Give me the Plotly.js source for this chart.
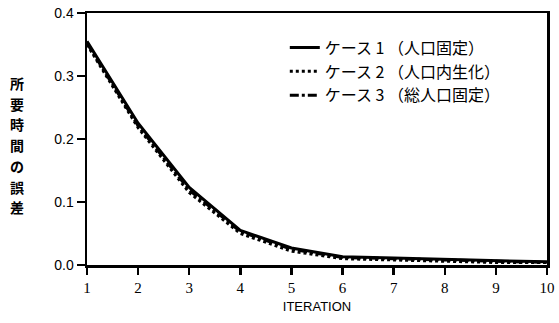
<!DOCTYPE html>
<html><head><meta charset="utf-8">
<script src="https://cdn.plot.ly/plotly-3.0.1.min.js"></script>
<style>body{margin:0;background:#fff}#c{width:559px;height:323px}</style>
</head><body><div id="c"></div>
<script>
const iterations = [1,2,3,4,5,6,7,8,9,10];
const case1 = [0.355,0.225,0.123,0.055,0.027,0.013,0.011,0.009,0.006,0.005];
const case2 = [0.350,0.218,0.115,0.050,0.022,0.010,0.008,0.006,0.004,0.004];
const case3 = [0.352,0.221,0.119,0.053,0.025,0.012,0.010,0.008,0.005,0.004];
const names = ['ケース 1 （人口固定）','ケース 2 （人口内生化）','ケース 3 （総人口固定）'];
const yTitleChars = ['所','要','時','間','の','誤','差'];
const jp = '"Noto Sans CJK JP", sans-serif';

const traces = [
  {x: iterations, y: case1, name: names[0], mode:'lines', line:{color:'#000', width:3, dash:'solid'}},
  {x: iterations, y: case2, name: names[1], mode:'lines', line:{color:'#000', width:3, dash:'dot'}},
  {x: iterations, y: case3, name: names[2], mode:'lines', line:{color:'#000', width:3, dash:'dashdot'}}
];

const plotTop = 13, plotBottom = 265, plotH = plotBottom - plotTop;
const annotations = yTitleChars.map((ch, i) => ({
  xref:'paper', yref:'paper', x:-0.152, y:(plotBottom - (83 + i*20.7))/plotH,
  xanchor:'center', yanchor:'middle', showarrow:false, text: ch,
  font:{family:jp, size:14, color:'#000', weight:'bold'}
}));

const layout = {
  width:559, height:323,
  margin:{l:87, r:12, t:13, b:58},
  paper_bgcolor:'#fff', plot_bgcolor:'#fff',
  showlegend:true,
  legend:{x:0.43, y:0.93, xanchor:'left', yanchor:'top', bgcolor:'rgba(0,0,0,0)',
          font:{family:jp, size:16, color:'#000'}, tracegroupgap:0, itemwidth:30},
  xaxis:{range:[1,10], tickvals:iterations, ticktext:iterations.map(String),
         showgrid:false, zeroline:false, showline:true, linecolor:'#000', linewidth:2.5, mirror:true,
         ticks:'outside', ticklen:7, tickwidth:2.5, tickcolor:'#000',
         tickfont:{family:'"Liberation Serif", serif', size:15, color:'#000'},
         title:{text:'ITERATION', font:{family:'"Liberation Sans", sans-serif', size:13, color:'#000'}, standoff:8}},
  yaxis:{range:[0,0.4], tickvals:[0,0.1,0.2,0.3,0.4], ticktext:['0.0','0.1','0.2','0.3','0.4'],
         showgrid:false, zeroline:false, showline:true, linecolor:'#000', linewidth:2.5, mirror:true,
         ticks:'outside', ticklen:8, tickwidth:2.5, tickcolor:'#000',
         tickfont:{family:'"Liberation Sans", sans-serif', size:14, color:'#000'}},
  annotations: annotations
};
Plotly.newPlot('c', traces, layout, {displayModeBar:false, staticPlot:true});
</script></body></html>
